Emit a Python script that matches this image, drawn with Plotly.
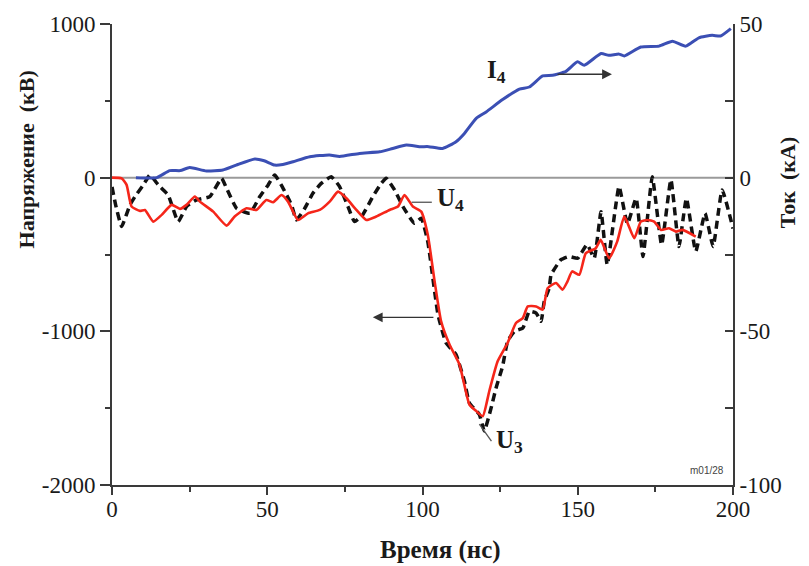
import plotly.graph_objects as go

# Current I4 (kA, right axis)
t_i4 = [7.7, 14.4, 18.6, 22, 25, 30.4, 35.7, 40, 46, 49, 52.4, 55, 58.3, 63.7, 70, 73.3,
        79.7, 86.2, 90.4, 94.8, 99, 102, 106.5, 110.8, 113.5, 117.3, 120.5, 125.8, 131.2,
        134.4, 138.7, 141.9, 146.2, 149.9, 152.1, 157.5, 160, 163.3, 165, 170.3, 176.2,
        180.5, 184.8, 189, 193.3, 196, 199.3]
i4 = [0, 0, 2.3, 2.3, 3.3, 2.2, 2.5, 4.1, 6.1, 5.5, 4.1, 4.3, 5.2, 6.8, 7.4, 6.9,
      7.9, 8.4, 9.5, 10.6, 10.1, 10.1, 9.5, 11.7, 14.4, 19.3, 21.4, 25.4, 28.8,
      29.5, 33.1, 33.3, 34.6, 37.7, 36.6, 40.4, 39.8, 40.2, 39.6, 42.5, 42.8,
      44.4, 42.8, 45.5, 46.3, 46.1, 48.5]

# Voltage U4 (kV, left axis)
t_u4 = [0, 3.1, 4.7, 6.3, 9, 10.6, 13.3, 16, 19.2, 21.9, 24, 26.7, 28.3, 32.6, 36.9, 39.5,
        43.3, 46.5, 49.7, 51.9, 54.6, 56.7, 59.9, 63.1, 66.9, 70.1, 72.8, 75.5, 78.7, 81.9,
        85.1, 89.4, 92.1, 94.2, 96.9, 99.6, 101.7, 103.9, 106, 108.7, 111.9, 115.1, 117.3,
        119.4, 121.5, 124.2, 127.4, 130.1, 132.3, 133.9, 136.6, 138.7, 140.3, 143, 145.1,
        146.7, 148.2, 150.5, 152.6, 155.8, 157.4, 160.1, 162.7, 165, 168.2, 170.3, 172.5,
        174.6, 176.8, 179.4, 181.6, 183.7, 188]
u4 = [0, -5, -47, -188, -216, -210, -286, -242, -177, -203, -177, -123, -156, -221, -312, -253,
      -199, -210, -145, -160, -113, -156, -275, -232, -210, -156, -91, -134, -210, -275,
      -253, -210, -188, -113, -188, -221, -372, -675, -935, -1086, -1216, -1476, -1519,
      -1552, -1390, -1195, -1076, -946, -914, -838, -838, -859, -719, -686, -729,
      -675, -610, -632, -491, -459, -405, -524, -416, -253, -394, -286, -275,
      -286, -340, -329, -351, -340, -383]

# Voltage U3 (kV, left axis)
t_u3 = [0, 1.2, 3.1, 5.8, 7.4, 10.1, 12.2, 14.9, 18.1, 21.3, 24, 27.2, 31.5, 35.3, 36.9, 40.1,
        44.4, 47.6, 50.3, 52.4, 55.1, 57.8, 59.4, 62.1, 64.7, 67.4, 70.6, 73.3, 76, 78.1,
        80.8, 84, 86.7, 88.3, 91, 93.7, 97.4, 99.6, 101.7, 105, 107.6, 110.8, 113.5, 115.1,
        118.3, 119.9, 122.1, 123.7, 125.8, 127.4, 129.6, 132.3, 134.4, 136.6, 138.2, 139.2,
        140.8, 141.4, 144.6, 147.1, 150, 153, 155.3, 157.5, 159.5, 163.3, 166, 168.8, 171,
        174, 177, 180, 182.6, 185, 188, 191, 193.6, 196.5, 200]
u3 = [-60, -180, -318, -177, -123, -47, 17, -47, -113, -286, -188, -145, -123, -4, -69, -199,
      -232, -123, -47, 17, -69, -177, -275, -199, -102, -37, 6, -58, -188, -286,
      -240, -123, -37, -4, -80, -188, -297, -264, -416, -892, -1076, -1151, -1325, -1466,
      -1541, -1649, -1498, -1368, -1227, -1065, -1000, -979, -870, -881, -935, -805,
      -719, -632, -534, -513, -524, -435, -524, -221, -567, -58, -300, -134, -513,
      6, -437, -13, -448, -134, -480, -232, -448, -80, -331]

x_ticks = [0, 50, 100, 150, 200]
y_ticks = [-2000, -1000, 0, 1000]
y_tick_text = ["-2000", "-1000", "0", "1000"]
y2_ticks = [-100, -50, 0, 50]
y2_tick_text = ["-100", "-50", "0", "50"]

SERIF = "Liberation Serif"
AXIS_COLOR = "#3a3a3a"

fig = go.Figure()

fig.add_trace(go.Scatter(
    x=t_i4, y=i4, yaxis="y2", mode="lines",
    line=dict(color="#3b4fb4", width=3, shape="spline", smoothing=0.5),
    showlegend=False, hoverinfo="skip"))
fig.add_trace(go.Scatter(
    x=t_u3, y=u3, mode="lines",
    line=dict(color="#111111", width=3.5, dash="8px,5px", shape="spline", smoothing=0.4),
    showlegend=False, hoverinfo="skip"))
fig.add_trace(go.Scatter(
    x=t_u4, y=u4, mode="lines",
    line=dict(color="#f5261a", width=2.6, shape="spline", smoothing=0.5),
    showlegend=False, hoverinfo="skip"))

# zero reference line
fig.add_shape(type="line", xref="x", yref="y", x0=0, x1=200, y0=0, y1=0,
              line=dict(color="#9a9a9a", width=2), layer="below")

# label leader lines
fig.add_shape(type="line", xref="x", yref="y", x0=96.5, x1=103, y0=-160, y1=-160,
              line=dict(color="#555555", width=1.3))
fig.add_shape(type="line", xref="x", yref="y", x0=118.3, x1=122.2, y0=-1604, y1=-1714,
              line=dict(color="#555555", width=1.3))

# direction arrows
fig.add_annotation(x=161, y=673, ax=143, ay=673, xref="x", yref="y", axref="x", ayref="y",
                   text="", showarrow=True, arrowhead=2, arrowsize=1.4, arrowwidth=1.4,
                   arrowcolor="#333333")
fig.add_annotation(x=84, y=-909, ax=104, ay=-909, xref="x", yref="y", axref="x", ayref="y",
                   text="", showarrow=True, arrowhead=2, arrowsize=1.4, arrowwidth=1.4,
                   arrowcolor="#333333")

# curve labels
label_font = dict(family=SERIF, size=25, color="#1a1a1a")
fig.add_annotation(x=120.0, y=690, xref="x", yref="y", text="<b>I<sub>4</sub></b>",
                   showarrow=False, xanchor="left", yanchor="middle", font=label_font)
fig.add_annotation(x=104.0, y=-140, xref="x", yref="y", text="<b>U<sub>4</sub></b>",
                   showarrow=False, xanchor="left", yanchor="middle", font=label_font)
fig.add_annotation(x=123.0, y=-1720, xref="x", yref="y", text="<b>U<sub>3</sub></b>",
                   showarrow=False, xanchor="left", yanchor="middle", font=label_font)

# axis titles and the plate tag, positioned in pixels
W, H = 809, 566
L, R, T, B = 112, 76, 22, 81


def px_x(v):
    return (v - L) / (W - L - R)


def px_y(v):
    return (H - B - v) / (H - T - B)


title_font = dict(family=SERIF, size=22, color="#1a1a1a")
fig.add_annotation(x=px_x(26), y=px_y(158), xref="paper", yref="paper",
                   text="<b>Напряжение  (кВ)</b>", showarrow=False, textangle=-90,
                   xanchor="center", yanchor="middle", font=title_font)
fig.add_annotation(x=px_x(787), y=px_y(181), xref="paper", yref="paper",
                   text="<b>Ток  (кА)</b>", showarrow=False, textangle=-90,
                   xanchor="center", yanchor="middle", font=title_font)
fig.add_annotation(x=px_x(440), y=px_y(550), xref="paper", yref="paper",
                   text="<b>Время (нс)</b>", showarrow=False,
                   xanchor="center", yanchor="middle",
                   font=dict(family=SERIF, size=25, color="#1a1a1a"))
fig.add_annotation(x=px_x(707), y=px_y(470), xref="paper", yref="paper", text="m01/28",
                   showarrow=False, xanchor="center", yanchor="middle",
                   font=dict(family="Liberation Sans", size=10, color="#444444"))

tick_font = dict(family=SERIF, size=23, color="#1a1a1a")
fig.update_layout(
    width=W, height=H,
    margin=dict(l=L, r=R, t=T, b=B, pad=0),
    paper_bgcolor="white", plot_bgcolor="white",
    xaxis=dict(range=[0, 200], tickvals=x_ticks, ticks="outside", ticklen=8, tickwidth=2,
               tickcolor=AXIS_COLOR, showline=True, linecolor=AXIS_COLOR, linewidth=2,
               showgrid=False, zeroline=False, tickfont=tick_font, ticklabelstandoff=-6,
               minor=dict(dtick=25, ticks="outside", ticklen=5, tickwidth=2,
                          tickcolor=AXIS_COLOR)),
    yaxis=dict(range=[-2000, 1000], tickvals=y_ticks, ticktext=y_tick_text,
               ticks="outside", ticklen=10,
               tickwidth=2, tickcolor=AXIS_COLOR, showline=True, linecolor=AXIS_COLOR,
               linewidth=2, showgrid=False, zeroline=False, tickfont=tick_font,
               minor=dict(dtick=500, ticks="outside", ticklen=5, tickwidth=2,
                          tickcolor=AXIS_COLOR)),
    yaxis2=dict(range=[-100, 50], tickvals=y2_ticks, ticktext=y2_tick_text,
                overlaying="y", side="right",
                ticks="inside", ticklen=8, tickwidth=2, tickcolor=AXIS_COLOR,
                showline=True, linecolor=AXIS_COLOR, linewidth=2, showgrid=False,
                zeroline=False, tickfont=tick_font,
                minor=dict(dtick=25, ticks="inside", ticklen=8, tickwidth=2,
                           tickcolor=AXIS_COLOR)),
)

fig.write_html("out.html")
